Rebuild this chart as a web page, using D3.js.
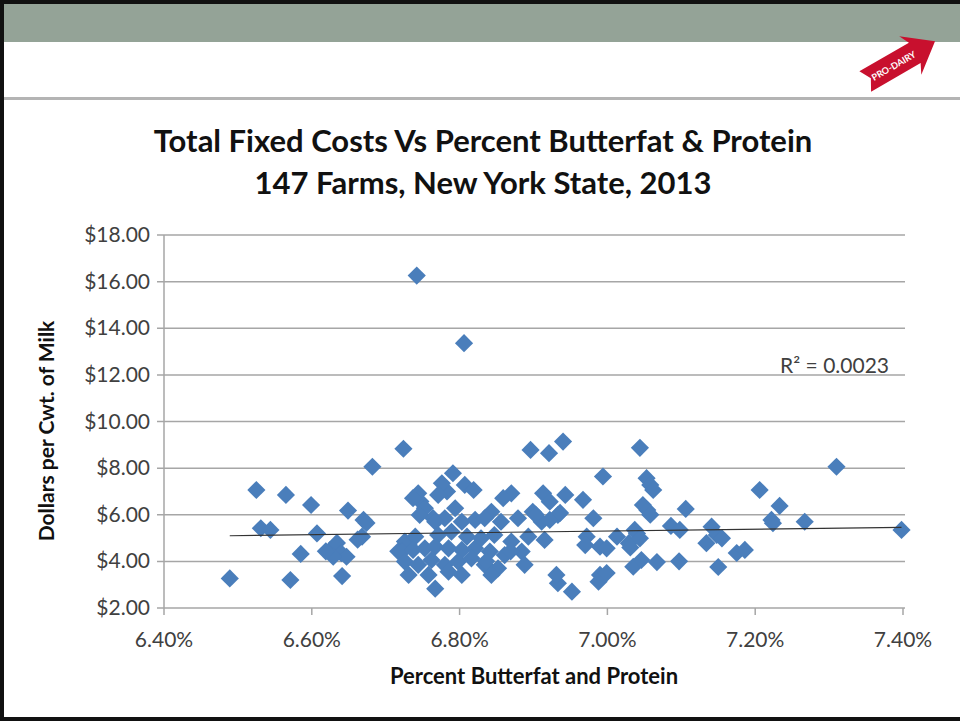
<!DOCTYPE html>
<html>
<head>
<meta charset="utf-8">
<script src="https://cdn.jsdelivr.net/npm/d3@7"></script>
<style>
  body { margin: 0; background: #fff; }
  svg { display: block; font-family: Lato, "Open Sans", sans-serif; }
</style>
</head>
<body>
<svg id="chart" width="960" height="721"></svg>
<script>
// percent butterfat & protein vs fixed cost per cwt
var pctLeft = [6.489,6.525,6.531,6.544,6.565,6.571,6.585,6.599,6.607,6.649,6.641,6.625,6.634,6.640,6.647,6.629,6.670,6.674,6.668,6.682,6.619,6.662];
var costLeft = [3.27,7.06,5.42,5.35,6.85,3.2,4.32,6.42,5.2,6.18,3.37,4.49,4.79,4.35,4.2,4.2,5.78,5.65,5.06,8.06,4.43,4.93];

var pctMid = [6.724,6.742,6.806,6.717,6.731,6.747,6.783,6.764,
  6.744,6.737,6.753,6.746,6.776,6.791,6.807,6.819,6.771,6.794,6.780,6.767,6.803,6.821,6.771,6.789,6.810,
  6.726,6.740,6.722,6.737,6.753,6.767,6.785,6.803,6.821,6.726,6.744,6.762,6.780,6.798,6.816,6.731,6.758,6.785,6.803,6.767];
var costMid = [8.83,16.26,13.36,4.43,4.71,6.57,7.0,5.86,
  6.92,6.71,6.28,5.99,7.35,7.78,7.28,7.06,6.85,6.28,5.85,5.7,5.7,5.78,5.13,5.27,5.06,
  4.85,5.06,4.42,4.49,4.56,4.63,4.56,4.49,4.56,3.99,3.85,4.06,3.85,3.99,4.13,3.42,3.42,3.56,3.42,2.83];

var pctCenter = [6.870,6.859,6.913,6.922,6.843,6.834,6.856,6.879,6.899,6.911,6.933,6.829,6.847,6.870,6.893,6.915,
  6.841,6.861,6.884,6.834,6.852,6.888,6.843,6.933,6.836,6.869,6.903,6.922];
var costCenter = [6.92,6.71,6.92,6.56,6.13,5.85,5.7,5.85,6.13,5.7,5.99,4.99,5.13,4.85,5.06,4.92,
  4.42,4.27,4.42,3.85,3.70,3.85,3.42,3.06,4.0,4.43,6.0,5.78];

var pctRight = [6.896,6.921,6.940,7.044,6.994,6.943,6.967,6.981,6.936,6.972,6.97,6.99,7.013,7.029,7.04,6.931,6.952,6.99,6.988,7.035,7.046,
  6.999,7.031,7.037,7.044,6.999,
  7.053,7.058,7.062,7.048,7.054,7.058,7.106,7.086,7.098,7.141,7.148,7.155,7.134,7.067,7.097,7.150,7.175,7.186,
  7.206,7.233,7.222,7.224,7.267,7.310,7.398];
var costRight = [8.78,8.64,9.14,8.87,7.64,6.85,6.64,5.85,6.08,5.06,4.7,4.63,5.06,4.78,5.2,3.42,2.7,3.42,3.13,3.77,4.06,
  4.56,4.6,5.35,4.99,3.5,
  7.57,7.28,7.06,6.42,6.2,6.0,6.25,5.52,5.35,5.49,5.13,4.99,4.78,3.97,4.0,3.76,4.36,4.49,
  7.06,6.38,5.78,5.64,5.7,8.06,5.35];

// Excel linear trendline ends
var trendPct = [6.489, 7.398];
var trendCost = [5.10, 5.46];

var yTicks = [2,4,6,8,10,12,14,16,18];
var xTicks = [6.4,6.6,6.8,7.0,7.2,7.4];

var svg = d3.select("#chart");

// slide frame
svg.append("rect").attr("x",0).attr("y",0).attr("width",960).attr("height",721).attr("fill","#fff");
svg.append("rect").attr("x",4).attr("y",4).attr("width",956).attr("height",38).attr("fill","#94a397");
svg.append("rect").attr("x",4).attr("y",97).attr("width",956).attr("height",3).attr("fill","#b4b4b4");
svg.append("rect").attr("x",0).attr("y",0).attr("width",960).attr("height",4).attr("fill","#111");
svg.append("rect").attr("x",0).attr("y",0).attr("width",4).attr("height",721).attr("fill","#111");
svg.append("rect").attr("x",0).attr("y",717).attr("width",960).attr("height",4).attr("fill","#111");

// PRO-DAIRY arrow logo
var logo = svg.append("g").attr("transform","translate(899,62) rotate(-30) scale(1.3)");
logo.append("path")
  .attr("d","M-30,-9 L14,-9 L10,-17 L32,0 L10,17 L14,9 L-30,9 L-25,0 Z")
  .attr("fill","#c8102e");
logo.append("text").attr("x",-5).attr("y",3).attr("text-anchor","middle")
  .attr("font-size",7).attr("font-weight","bold").attr("fill","#fff").text("PRO-DAIRY");

var x = d3.scaleLinear().domain([6.4,7.4]).range([164,903]);
var y = d3.scaleLinear().domain([2,18]).range([608,235]);

// gridlines
svg.append("g").selectAll("line").data(yTicks).enter().append("line")
  .attr("x1",157).attr("x2",905)
  .attr("y1",function(d){return y(d);}).attr("y2",function(d){return y(d);})
  .attr("stroke","#a6a6a6").attr("stroke-width",1.5);

// y axis line
svg.append("line").attr("x1",164).attr("x2",164).attr("y1",y(18)).attr("y2",y(2))
  .attr("stroke","#a6a6a6").attr("stroke-width",1.5);

// x axis ticks
svg.append("g").selectAll("line").data(xTicks).enter().append("line")
  .attr("x1",function(d){return x(d);}).attr("x2",function(d){return x(d);})
  .attr("y1",608).attr("y2",615)
  .attr("stroke","#a6a6a6").attr("stroke-width",1.5);

// tick labels
svg.append("g").selectAll("text").data(yTicks).enter().append("text")
  .attr("x",150).attr("y",function(d){return y(d)+7;})
  .attr("text-anchor","end").attr("font-size",21).attr("fill","#404040")
  .text(function(d){return "$" + d.toFixed(2);});

svg.append("g").selectAll("text").data(xTicks).enter().append("text")
  .attr("x",function(d){return x(d);}).attr("y",647)
  .attr("text-anchor","middle").attr("font-size",21).attr("fill","#404040")
  .text(function(d){return d.toFixed(2) + "%";});

// points
var points = [];
[[pctLeft,costLeft],[pctMid,costMid],[pctCenter,costCenter],[pctRight,costRight]].forEach(function(s){
  s[0].forEach(function(p,i){ points.push({pct:p, cost:s[1][i]}); });
});

var diamond = d3.symbol().type(d3.symbolSquare).size(165);
svg.append("g").selectAll("path").data(points).enter().append("path")
  .attr("d",diamond)
  .attr("transform",function(d){return "translate(" + x(d.pct) + "," + y(d.cost) + ") rotate(45)";})
  .attr("fill","#4a7ebb");

// trendline
var line = d3.line().x(function(d){return x(d[0]);}).y(function(d){return y(d[1]);});
svg.append("path").datum(d3.zip(trendPct,trendCost))
  .attr("d",line).attr("fill","none").attr("stroke","#333").attr("stroke-width",1.2);

svg.append("text").attr("x",889).attr("y",373).attr("text-anchor","end")
  .attr("font-size",21).attr("fill","#404040").text("R² = 0.0023");

// titles
svg.append("text").attr("x",483).attr("y",152).attr("text-anchor","middle")
  .attr("font-size",31).attr("font-weight","bold").attr("fill","#111")
  .text("Total Fixed Costs Vs Percent Butterfat & Protein");
svg.append("text").attr("x",483).attr("y",194).attr("text-anchor","middle")
  .attr("font-size",31).attr("font-weight","bold").attr("fill","#111")
  .text("147 Farms, New York State, 2013");

svg.append("text").attr("x",534).attr("y",684).attr("text-anchor","middle")
  .attr("font-size",22).attr("font-weight","bold").attr("fill","#111")
  .text("Percent Butterfat and Protein");

svg.append("text").attr("transform","translate(54,431) rotate(-90)").attr("text-anchor","middle")
  .attr("font-size",21).attr("font-weight","bold").attr("fill","#111")
  .text("Dollars per Cwt. of Milk");
</script>
</body>
</html>
